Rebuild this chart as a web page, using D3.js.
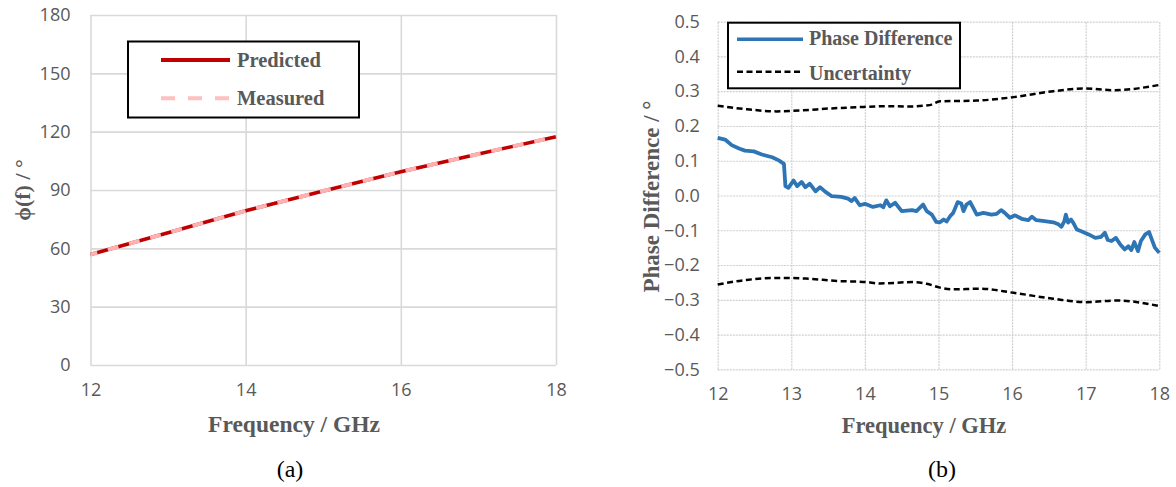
<!DOCTYPE html>
<html>
<head>
<meta charset="utf-8">
<script src="https://cdn.jsdelivr.net/npm/d3@7"></script>
<style>
  html, body { margin: 0; padding: 0; background: #fff; }
  svg { display: block; }
  .tick text { font-family: "Open Sans", sans-serif; font-size: 18px; fill: #595959; }
  .serif { font-family: "Liberation Serif", "Times New Roman", serif; }
</style>
</head>
<body>
<svg id="chart" width="1176" height="487"></svg>
<script>
// ---------- data: chart (a) ----------
const predFreq = [12, 13, 14, 15, 16, 17, 18];
const predicted = [56.8, 68.0, 79.3, 89.5, 99.4, 108.5, 117.4];
const measFreq = [12, 13, 14, 15, 16, 17, 18];
const measured = [56.8, 68.0, 79.3, 89.5, 99.4, 108.5, 117.4];
const xTicksA = [12, 14, 16, 18];
const yTicksA = [0, 30, 60, 90, 120, 150, 180];

// ---------- data: chart (b) ----------
const phaseFreq = [12.00,12.10,12.19,12.29,12.37,12.49,12.60,12.74,12.83,12.90,
  12.92,12.96,13.03,13.08,13.14,13.19,13.25,13.33,13.39,13.46,
  13.55,13.68,13.77,13.82,13.86,13.93,14.00,14.11,14.21,14.25,
  14.29,14.34,14.41,14.50,14.64,14.70,14.79,14.84,14.91,14.97,
  15.02,15.07,15.11,15.16,15.20,15.26,15.31,15.34,15.38,15.43,
  15.47,15.52,15.61,15.72,15.79,15.85,15.90,15.97,16.04,16.13,
  16.22,16.27,16.33,16.44,16.56,16.63,16.67,16.71,16.73,16.76,
  16.80,16.83,16.88,16.94,17.04,17.13,17.21,17.26,17.30,17.35,
  17.41,17.47,17.53,17.58,17.62,17.66,17.71,17.75,17.81,17.86,
  17.89,17.94,18.00];
const phaseDiff = [0.166,0.161,0.145,0.135,0.129,0.127,0.118,0.110,0.101,0.091,
  0.027,0.022,0.043,0.027,0.039,0.024,0.034,0.012,0.024,0.011,
  -0.002,-0.004,-0.009,-0.016,-0.007,-0.028,-0.024,-0.033,-0.028,-0.034,
  -0.014,-0.031,-0.021,-0.045,-0.042,-0.045,-0.026,-0.045,-0.055,-0.076,
  -0.077,-0.069,-0.075,-0.059,-0.050,-0.019,-0.023,-0.045,-0.026,-0.019,
  -0.035,-0.055,-0.050,-0.055,-0.053,-0.042,-0.050,-0.064,-0.057,-0.067,
  -0.071,-0.061,-0.071,-0.074,-0.077,-0.083,-0.090,-0.074,-0.055,-0.078,
  -0.069,-0.078,-0.098,-0.103,-0.112,-0.122,-0.119,-0.107,-0.128,-0.131,
  -0.122,-0.141,-0.155,-0.146,-0.157,-0.134,-0.160,-0.131,-0.112,-0.105,
  -0.122,-0.150,-0.165];
const uncUpFreq = [12, 12.4, 12.8, 13.16, 13.5, 13.89, 14.3, 14.57, 14.88, 15.02, 15.52, 16.02, 16.56, 16.97, 17.38, 18];
const uncUpper  = [0.258, 0.248, 0.242, 0.245, 0.250, 0.254, 0.257, 0.256, 0.260, 0.271, 0.273, 0.283, 0.300, 0.308, 0.303, 0.318];
const uncLoFreq = [12, 12.39, 12.8, 13.2, 13.62, 14.02, 14.2, 14.66, 14.84, 15.02, 15.2, 15.56, 16.02, 16.56, 17.01, 17.42, 18];
const uncLower  = [-0.256, -0.243, -0.237, -0.239, -0.246, -0.249, -0.253, -0.249, -0.254, -0.265, -0.270, -0.268, -0.280, -0.297, -0.307, -0.302, -0.318];
const xTicksB = [12, 13, 14, 15, 16, 17, 18];
const yTicksB = [-0.5, -0.4, -0.3, -0.2, -0.1, 0.0, 0.1, 0.2, 0.3, 0.4, 0.5];

const svg = d3.select("#chart");
const grey = "#595959";

// ================= Chart (a) =================
const xA = d3.scaleLinear().domain([12, 18]).range([90.5, 556]);
const yA = d3.scaleLinear().domain([0, 180]).range([365, 15]);

svg.append("g").attr("transform", `translate(0,${yA(0)})`)
  .call(d3.axisBottom(xA).tickValues(xTicksA).tickSize(-(yA(0) - yA(180))).tickFormat(""))
  .call(g => g.select(".domain").remove())
  .call(g => g.selectAll("line").attr("stroke", "#d9d9d9").attr("stroke-width", 1.6));
svg.append("g").attr("transform", `translate(${xA(12)},0)`)
  .call(d3.axisLeft(yA).tickValues(yTicksA).tickSize(-(xA(18) - xA(12))).tickFormat(""))
  .call(g => g.select(".domain").remove())
  .call(g => g.selectAll("line").attr("stroke", "#d9d9d9").attr("stroke-width", 1.6));

svg.append("g").attr("transform", `translate(${xA(12)},0)`)
  .call(d3.axisLeft(yA).tickValues(yTicksA).tickSize(0).tickPadding(20).tickFormat(d3.format("d")))
  .call(g => g.select(".domain").remove());
svg.append("g").attr("transform", `translate(0,${yA(0)})`)
  .call(d3.axisBottom(xA).tickValues(xTicksA).tickSize(0).tickPadding(18).tickFormat(d3.format("d")))
  .call(g => g.select(".domain").remove());

const lineA = d3.line().x(d => xA(d[0])).y(d => yA(d[1]));
svg.append("path").datum(d3.zip(predFreq, predicted))
  .attr("d", lineA).attr("fill", "none").attr("stroke", "#c00000").attr("stroke-width", 3.5);
svg.append("path").datum(d3.zip(measFreq, measured))
  .attr("d", lineA).attr("fill", "none").attr("stroke", "#ffb0b0").attr("stroke-width", 4)
  .attr("stroke-dasharray", "11,11").attr("stroke-dashoffset", 4);

// legend (a)
const legA = svg.append("g");
legA.append("rect").attr("x", 128).attr("y", 41.5).attr("width", 231).attr("height", 76)
  .attr("fill", "#fff").attr("stroke", "#000").attr("stroke-width", 2);
legA.append("line").attr("x1", 161).attr("x2", 230).attr("y1", 60).attr("y2", 60)
  .attr("stroke", "#c00000").attr("stroke-width", 4);
legA.append("line").attr("x1", 161).attr("x2", 230).attr("y1", 98.3).attr("y2", 98.3)
  .attr("stroke", "#ffc0c0").attr("stroke-width", 4).attr("stroke-dasharray", "14,13");
legA.append("text").attr("class", "serif").attr("x", 237).attr("y", 66.7)
  .attr("font-size", 20.5).attr("font-weight", "bold").attr("fill", grey).text("Predicted");
legA.append("text").attr("class", "serif").attr("x", 237).attr("y", 105)
  .attr("font-size", 20.5).attr("font-weight", "bold").attr("fill", grey).text("Measured");

svg.append("text").attr("class", "serif").attr("x", 294).attr("y", 432)
  .attr("text-anchor", "middle").attr("font-size", 23.5).attr("font-weight", "bold")
  .attr("fill", grey).text("Frequency / GHz");
svg.append("text").attr("class", "serif")
  .attr("transform", `translate(30,${(yA(0) + yA(180)) / 2}) rotate(-90)`)
  .attr("text-anchor", "middle").attr("font-size", 22).attr("font-weight", "bold")
  .attr("fill", grey).text("ϕ(f) / °");
svg.append("text").attr("class", "serif").attr("x", 290).attr("y", 477)
  .attr("text-anchor", "middle").attr("font-size", 24).attr("fill", "#000").text("(a)");

// ================= Chart (b) =================
const xB = d3.scaleLinear().domain([12, 18]).range([717.7, 1159.3]);
const yB = d3.scaleLinear().domain([-0.5, 0.5]).range([369.3, 21.7]);

svg.append("g").attr("transform", `translate(0,${yB(-0.5)})`)
  .call(d3.axisBottom(xB).tickValues(xTicksB).tickSize(-(yB(-0.5) - yB(0.5))).tickFormat(""))
  .call(g => g.select(".domain").remove())
  .call(g => g.selectAll("line").attr("stroke", "#cfcfcf").attr("stroke-width", 1.2).attr("stroke-dasharray", "2,1"));
svg.append("g").attr("transform", `translate(${xB(12)},0)`)
  .call(d3.axisLeft(yB).tickValues(yTicksB).tickSize(-(xB(18) - xB(12))).tickFormat(""))
  .call(g => g.select(".domain").remove())
  .call(g => g.selectAll("line").attr("stroke", "#cfcfcf").attr("stroke-width", 1.2).attr("stroke-dasharray", "2,1"));

svg.append("g").attr("transform", `translate(${xB(12)},0)`)
  .call(d3.axisLeft(yB).tickValues(yTicksB).tickSize(0).tickPadding(18).tickFormat(d3.format(".1f")))
  .call(g => g.select(".domain").remove());
svg.append("g").attr("transform", `translate(0,${yB(-0.5)})`)
  .call(d3.axisBottom(xB).tickValues(xTicksB).tickSize(0).tickPadding(18).tickFormat(d3.format("d")))
  .call(g => g.select(".domain").remove());

const lineB = d3.line().x(d => xB(d[0])).y(d => yB(d[1]));
svg.append("path").datum(d3.zip(uncUpFreq, uncUpper))
  .attr("d", lineB.curve(d3.curveMonotoneX)).attr("fill", "none").attr("stroke", "#000")
  .attr("stroke-width", 2.5).attr("stroke-dasharray", "6,3.5");
svg.append("path").datum(d3.zip(uncLoFreq, uncLower))
  .attr("d", lineB.curve(d3.curveMonotoneX)).attr("fill", "none").attr("stroke", "#000")
  .attr("stroke-width", 2.5).attr("stroke-dasharray", "6,3.5");
svg.append("path").datum(d3.zip(phaseFreq, phaseDiff))
  .attr("d", lineB.curve(d3.curveLinear)).attr("fill", "none").attr("stroke", "#2e75b6")
  .attr("stroke-width", 3.8).attr("stroke-linejoin", "round");

// legend (b)
const legB = svg.append("g");
legB.append("rect").attr("x", 728).attr("y", 22.7).attr("width", 232).attr("height", 65.6)
  .attr("fill", "#fff").attr("stroke", "#000").attr("stroke-width", 2);
legB.append("line").attr("x1", 737).attr("x2", 803).attr("y1", 39.3).attr("y2", 39.3)
  .attr("stroke", "#2e75b6").attr("stroke-width", 3.5);
legB.append("line").attr("x1", 737).attr("x2", 803).attr("y1", 71.7).attr("y2", 71.7)
  .attr("stroke", "#000").attr("stroke-width", 2.5).attr("stroke-dasharray", "6,3.5");
legB.append("text").attr("class", "serif").attr("x", 809).attr("y", 45)
  .attr("font-size", 20).attr("font-weight", "bold").attr("fill", grey).text("Phase Difference");
legB.append("text").attr("class", "serif").attr("x", 809).attr("y", 80)
  .attr("font-size", 20).attr("font-weight", "bold").attr("fill", grey).text("Uncertainty");

svg.append("text").attr("class", "serif").attr("x", 924).attr("y", 433)
  .attr("text-anchor", "middle").attr("font-size", 22.5).attr("font-weight", "bold")
  .attr("fill", grey).text("Frequency / GHz");
svg.append("text").attr("class", "serif")
  .attr("transform", `translate(659,196.5) rotate(-90)`)
  .attr("text-anchor", "middle").attr("font-size", 23).attr("font-weight", "bold")
  .attr("fill", grey).text("Phase Difference / °");
svg.append("text").attr("class", "serif").attr("x", 942).attr("y", 477)
  .attr("text-anchor", "middle").attr("font-size", 24).attr("fill", "#000").text("(b)");
</script>
</body>
</html>
